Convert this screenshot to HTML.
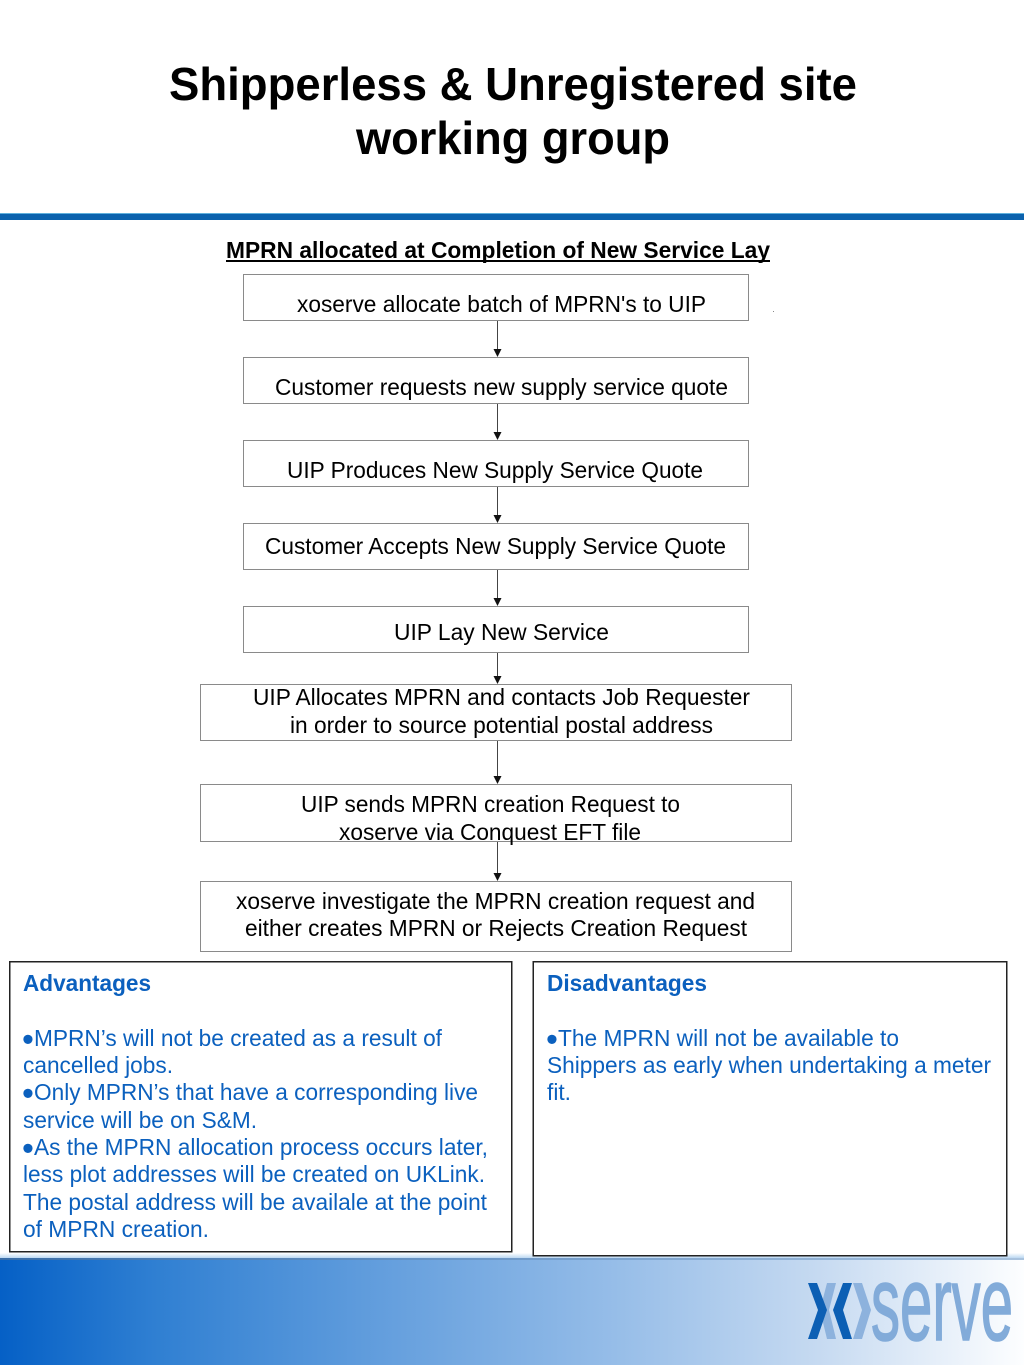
<!DOCTYPE html>
<html>
<head>
<meta charset="utf-8">
<style>
html,body{margin:0;padding:0;background:#fff;width:1024px;height:1365px;overflow:hidden}
svg{display:block}
text{font-family:"Liberation Sans",Arial,sans-serif}
.t{font-size:23px;fill:#000}
.b{font-size:23px;fill:#0b60be}
.d{font-size:34px;fill:#0b60be}
.h{font-size:23px;fill:#0b60be;font-weight:bold}
.title{font-size:46px;font-weight:bold;fill:#000}
.box{fill:#fff;stroke:#8a8a8a;stroke-width:1}
.panel{fill:#fff;stroke:#222;stroke-width:1.5}
.ln{stroke:#444;stroke-width:1}
</style>
</head>
<body>
<svg width="1024" height="1365" viewBox="0 0 1024 1365" xmlns="http://www.w3.org/2000/svg">
<defs>
<linearGradient id="g" x1="0" x2="1" y1="0" y2="0">
<stop offset="0" stop-color="#0560c6"/>
<stop offset="0.15" stop-color="#2f7fd2"/>
<stop offset="0.35" stop-color="#5e9bdc"/>
<stop offset="0.6" stop-color="#96bde8"/>
<stop offset="0.8" stop-color="#c6daf1"/>
<stop offset="1" stop-color="#fdfeff"/>
</linearGradient>
<linearGradient id="s" x1="0" x2="1" y1="0" y2="0">
<stop offset="0" stop-color="#3a6ea8"/>
<stop offset="0.6" stop-color="#7ba3cf"/>
<stop offset="1" stop-color="#a9c3de"/>
</linearGradient>
<linearGradient id="v" x1="0" x2="0" y1="0" y2="1">
<stop offset="0" stop-color="#ffffff"/>
<stop offset="1" stop-color="#bcd8f2"/>
</linearGradient>
</defs>

<rect width="1024" height="1365" fill="#fff"/>

<text class="title" x="169" y="100" textLength="688" lengthAdjust="spacingAndGlyphs">Shipperless &amp; Unregistered site</text>
<text class="title" x="356" y="154" textLength="314" lengthAdjust="spacingAndGlyphs">working group</text>

<rect x="0" y="213" width="1024" height="1" fill="#5fb0dc"/>
<rect x="0" y="214" width="1024" height="6" fill="#0b62ad"/>

<text x="226" y="258" font-size="23" font-weight="bold" fill="#000" textLength="544" lengthAdjust="spacingAndGlyphs">MPRN allocated at Completion of New Service Lay</text>
<rect x="226" y="260" width="544" height="2" fill="#000"/>

<!-- connectors -->
<g class="ln">
<line x1="497.5" y1="321" x2="497.5" y2="350"/>
<line x1="497.5" y1="404" x2="497.5" y2="433"/>
<line x1="497.5" y1="487" x2="497.5" y2="516"/>
<line x1="497.5" y1="570" x2="497.5" y2="599"/>
<line x1="497.5" y1="653" x2="497.5" y2="677"/>
<line x1="497.5" y1="741" x2="497.5" y2="777"/>
<line x1="497.5" y1="842" x2="497.5" y2="874"/>
</g>
<g fill="#111">
<polygon points="493.5,349 501.5,349 497.5,357"/>
<polygon points="493.5,432 501.5,432 497.5,440"/>
<polygon points="493.5,515 501.5,515 497.5,523"/>
<polygon points="493.5,598 501.5,598 497.5,606"/>
<polygon points="493.5,676 501.5,676 497.5,684"/>
<polygon points="493.5,776 501.5,776 497.5,784"/>
<polygon points="493.5,873 501.5,873 497.5,881"/>
</g>

<!-- boxes -->
<rect class="box" x="243.5" y="274.5" width="505" height="46"/>
<rect class="box" x="243.5" y="357.5" width="505" height="46"/>
<rect class="box" x="243.5" y="440.5" width="505" height="46"/>
<rect class="box" x="243.5" y="523.5" width="505" height="46"/>
<rect class="box" x="243.5" y="606.5" width="505" height="46"/>
<rect class="box" x="200.5" y="684.5" width="591" height="56"/>
<rect class="box" x="200.5" y="784.5" width="591" height="57"/>
<rect class="box" x="200.5" y="881.5" width="591" height="70"/>
<rect x="773" y="311" width="1" height="1" fill="#888"/>

<text class="t" x="297" y="312" textLength="409" lengthAdjust="spacingAndGlyphs">xoserve allocate batch of MPRN's to UIP</text>
<text class="t" x="275" y="395" textLength="453" lengthAdjust="spacingAndGlyphs">Customer requests new supply service quote</text>
<text class="t" x="287" y="478" textLength="416" lengthAdjust="spacingAndGlyphs">UIP Produces New Supply Service Quote</text>
<text class="t" x="265" y="554" textLength="461" lengthAdjust="spacingAndGlyphs">Customer Accepts New Supply Service Quote</text>
<text class="t" x="394" y="640" textLength="215" lengthAdjust="spacingAndGlyphs">UIP Lay New Service</text>
<text class="t" x="253" y="705" textLength="497" lengthAdjust="spacingAndGlyphs">UIP Allocates MPRN and contacts Job Requester</text>
<text class="t" x="290" y="733" textLength="423" lengthAdjust="spacingAndGlyphs">in order to source potential postal address</text>
<text class="t" x="301" y="812" textLength="379" lengthAdjust="spacingAndGlyphs">UIP sends MPRN creation Request to</text>
<text class="t" x="339" y="840" textLength="302" lengthAdjust="spacingAndGlyphs">xoserve via Conquest EFT file</text>
<text class="t" x="236" y="909" textLength="519" lengthAdjust="spacingAndGlyphs">xoserve investigate the MPRN creation request and</text>
<text class="t" x="245" y="936" textLength="502" lengthAdjust="spacingAndGlyphs">either creates MPRN or Rejects Creation Request</text>

<!-- footer -->
<rect x="0" y="1253" width="1024" height="5" fill="url(#v)"/>
<rect x="0" y="1258" width="1024" height="2" fill="url(#s)"/>
<rect x="0" y="1260" width="1024" height="105" fill="url(#g)"/>

<!-- panels -->
<rect class="panel" x="9.75" y="961.75" width="502" height="290"/>
<rect class="panel" x="533.25" y="961.75" width="473.5" height="294"/>

<text class="h" x="23" y="991" textLength="128" lengthAdjust="spacingAndGlyphs">Advantages</text>
<text class="d" x="22" y="1050.5">•</text>
<text class="b" x="34" y="1046" textLength="408" lengthAdjust="spacingAndGlyphs">MPRN’s will not be created as a result of</text>
<text class="b" x="23" y="1073" textLength="150" lengthAdjust="spacingAndGlyphs">cancelled jobs.</text>
<text class="d" x="22" y="1104.5">•</text>
<text class="b" x="34" y="1100" textLength="444" lengthAdjust="spacingAndGlyphs">Only MPRN’s that have a corresponding live</text>
<text class="b" x="23" y="1128" textLength="234" lengthAdjust="spacingAndGlyphs">service will be on S&amp;M.</text>
<text class="d" x="22" y="1159.5">•</text>
<text class="b" x="34" y="1155" textLength="454" lengthAdjust="spacingAndGlyphs">As the MPRN allocation process occurs later,</text>
<text class="b" x="23" y="1182" textLength="462" lengthAdjust="spacingAndGlyphs">less plot addresses will be created on UKLink.</text>
<text class="b" x="23" y="1210" textLength="464" lengthAdjust="spacingAndGlyphs">The postal address will be availale at the point</text>
<text class="b" x="23" y="1237" textLength="186" lengthAdjust="spacingAndGlyphs">of MPRN creation.</text>

<text class="h" x="547" y="991" textLength="160" lengthAdjust="spacingAndGlyphs">Disadvantages</text>
<text class="d" x="546" y="1050.5">•</text>
<text class="b" x="558" y="1046" textLength="341" lengthAdjust="spacingAndGlyphs">The MPRN will not be available to</text>
<text class="b" x="547" y="1073" textLength="444" lengthAdjust="spacingAndGlyphs">Shippers as early when undertaking a meter</text>
<text class="b" x="547" y="1100" textLength="24" lengthAdjust="spacingAndGlyphs">fit.</text>

<!-- logo -->
<g>
<polygon points="827,1283 836,1283 829,1310 836,1339 827,1339 820,1310" fill="#8db2dd"/>
<polygon points="853,1283 862,1283 871,1310 862,1339 853,1339 862,1310" fill="#8db2dd"/>
<polygon points="808,1283 817,1283 827,1310 817,1339 808,1339 818,1310" fill="#0c5fb4"/>
<polygon points="843,1283 852,1283 843,1310 852,1339 843,1339 833,1310" fill="#0c5fb4"/>
<text x="871" y="1340" font-size="106" fill="#82abd9" stroke="#82abd9" stroke-width="1.6" textLength="142" lengthAdjust="spacingAndGlyphs">serve</text>
</g>
</svg>
</body>
</html>
